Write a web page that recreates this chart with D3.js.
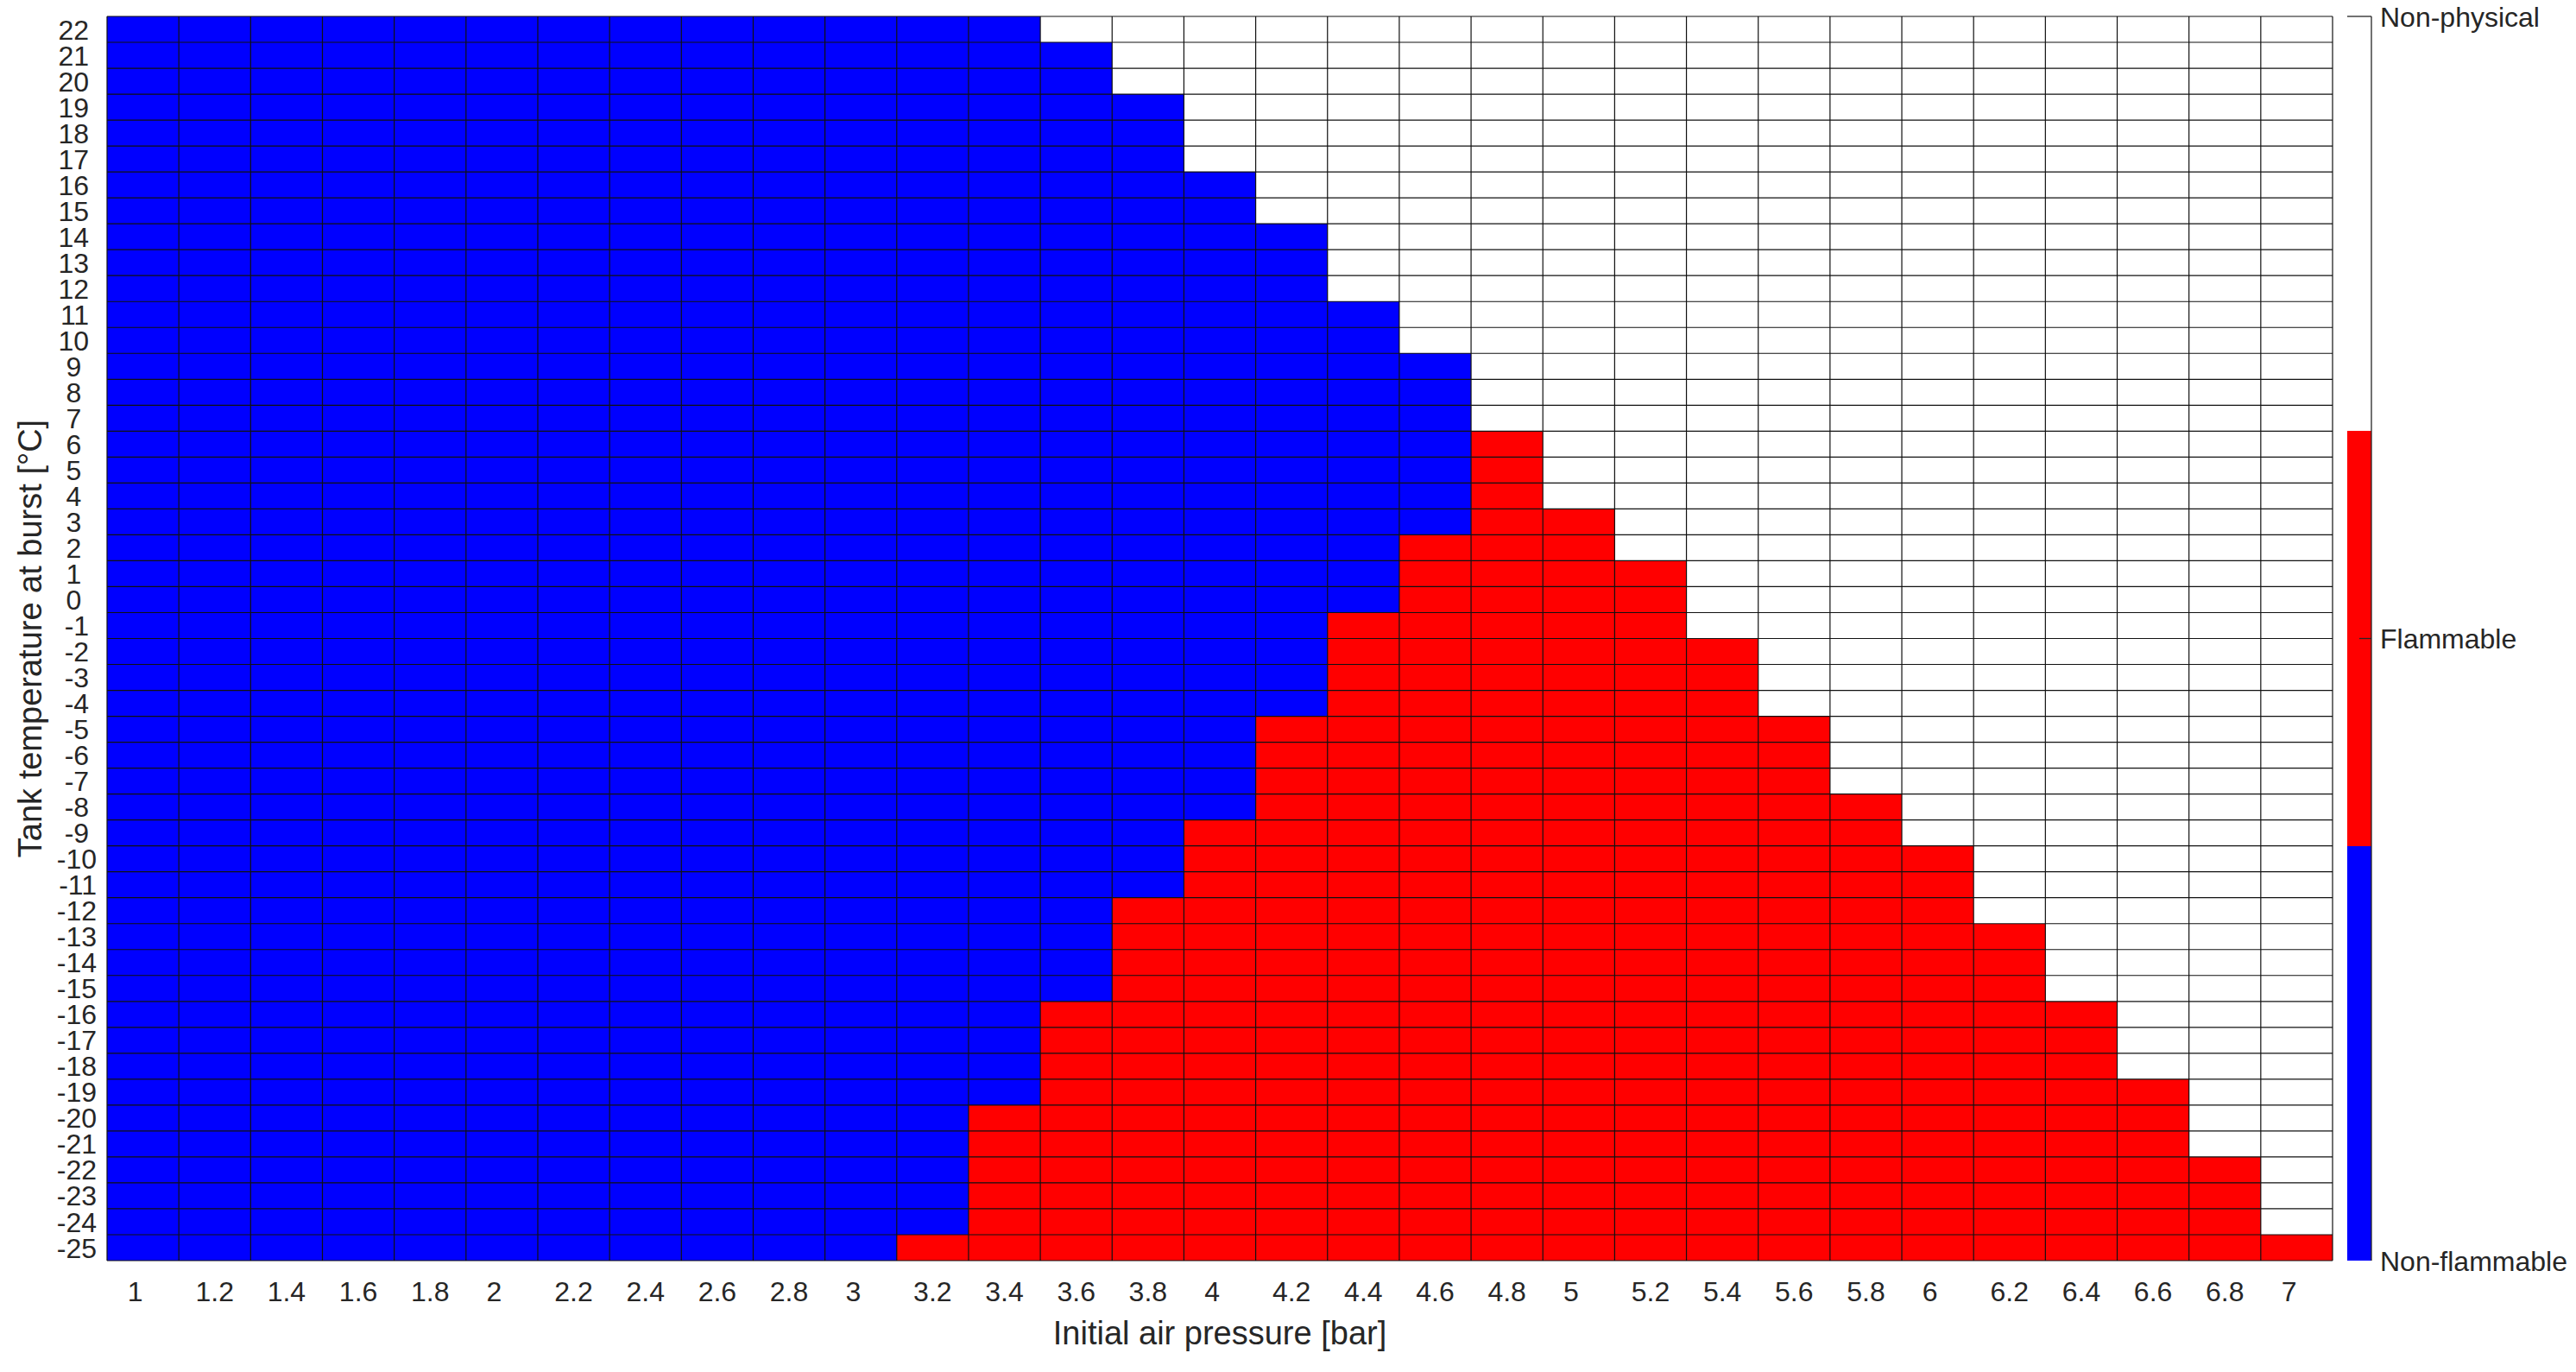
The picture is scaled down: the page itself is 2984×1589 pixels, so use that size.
<!DOCTYPE html>
<html>
<head>
<meta charset="utf-8">
<script src="https://cdn.jsdelivr.net/npm/d3@7"></script>
<style>
  html, body { margin: 0; padding: 0; background: #fff; }
  svg { display: block; }
  text { font-family: "Liberation Sans", Arial, Helvetica, sans-serif; fill: #262626; }
</style>
</head>
<body>
<svg id="chart" width="2984" height="1589"></svg>
<script>
// ---------------- data ----------------
const pressures = ["1","1.2","1.4","1.6","1.8","2","2.2","2.4","2.6","2.8","3","3.2","3.4","3.6","3.8","4",
                   "4.2","4.4","4.6","4.8","5","5.2","5.4","5.6","5.8","6","6.2","6.4","6.6","6.8","7"];
const temperatures = [22,21,20,19,18,17,16,15,14,13,12,11,10,9,8,7,6,5,4,3,2,1,0,-1,-2,-3,-4,-5,-6,-7,-8,-9,
                      -10,-11,-12,-13,-14,-15,-16,-17,-18,-19,-20,-21,-22,-23,-24,-25];
// highest physical temperature for each pressure (above it: Non-physical)
const maxPhysicalTemp = [22,22,22,22,22,22,22,22,22,22,22,22,22,21,19,16,14,11,9,6,3,1,-2,-5,-8,-10,-13,-16,-19,-22,-25];
// highest flammable temperature for each pressure (at or below it: Flammable), null = none
const maxFlammableTemp = [null,null,null,null,null,null,null,null,null,null,null,-25,-20,-16,-12,-9,-5,-1,2,6,3,1,-2,-5,-8,-10,-13,-16,-19,-22,-25];
const states = ["Non-flammable","Flammable","Non-physical"];
const stateColors = ["#0000ff","#ff0000","#ffffff"];
const xTitle = "Initial air pressure [bar]";
const yTitle = "Tank temperature at burst [°C]";

// ---------------- layout ----------------
const L = 124, R = 2702, T = 19, B = 1460;
const svg = d3.select("#chart");

const x = d3.scaleBand().domain(pressures).range([L, R]).padding(0);
const y = d3.scaleBand().domain(temperatures).range([T, B]).padding(0);
const color = d3.scaleOrdinal().domain(states).range(stateColors);

const cells = [];
pressures.forEach((p, j) => {
  temperatures.forEach(t => {
    let s;
    if (t > maxPhysicalTemp[j]) s = "Non-physical";
    else if (maxFlammableTemp[j] !== null && t <= maxFlammableTemp[j]) s = "Flammable";
    else s = "Non-flammable";
    cells.push({p, t, s});
  });
});

svg.append("g").selectAll("rect").data(cells).join("rect")
  .attr("x", d => x(d.p))
  .attr("y", d => y(d.t))
  .attr("width", x.bandwidth())
  .attr("height", y.bandwidth())
  .attr("fill", d => color(d.s))
  .attr("shape-rendering", "crispEdges");

// grid lines
const grid = svg.append("g").attr("stroke", "#111").attr("stroke-width", 1.2);
const xEdges = pressures.map(p => x(p)).concat([x(pressures[pressures.length-1]) + x.bandwidth()]);
const yEdges = temperatures.map(t => y(t)).concat([y(temperatures[temperatures.length-1]) + y.bandwidth()]);
grid.selectAll("line.v").data(xEdges).join("line").attr("class","v")
  .attr("x1", d => d).attr("x2", d => d).attr("y1", T).attr("y2", B);
grid.selectAll("line.h").data(yEdges).join("line").attr("class","h")
  .attr("x1", L).attr("x2", R).attr("y1", d => d).attr("y2", d => d);

// axes
const xAxis = svg.append("g").attr("transform", `translate(0,${B})`)
  .call(d3.axisBottom(x).tickSize(0).tickPadding(24));
xAxis.select(".domain").remove();
xAxis.selectAll("text")
  .style("font-size", "32px").attr("fill", "#262626")
  .attr("dx", d => `${-(3 - d.length) * 0.139}em`);

const yAxis = svg.append("g").attr("transform", `translate(${L},0)`)
  .call(d3.axisLeft(y).tickSize(0).tickPadding(12));
yAxis.select(".domain").remove();
yAxis.selectAll("text")
  .style("font-size", "32px").attr("fill", "#262626")
  .attr("dy", "0.36em")
  .attr("dx", d => `${-(3 - String(d).length) * 0.278}em`);

// axis titles
svg.append("text")
  .attr("x", (L + R) / 2).attr("y", 1557)
  .attr("text-anchor", "middle").style("font-size", "38px")
  .text(xTitle);
svg.append("text")
  .attr("transform", `translate(48,${(T + B) / 2}) rotate(-90)`)
  .attr("text-anchor", "middle").style("font-size", "38px")
  .text(yTitle);

// colorbar
const cbL = 2719, cbR = 2747;
const cb = d3.scaleBand().domain(states).range([B, T]).padding(0);
const cbPoint = d3.scalePoint().domain(states).range([B, T]);
svg.append("g").selectAll("rect").data(states).join("rect")
  .attr("x", cbL).attr("width", cbR - cbL)
  .attr("y", d => cb(d)).attr("height", cb.bandwidth())
  .attr("fill", d => color(d))
  .attr("shape-rendering", "crispEdges");
const cbLines = svg.append("g").attr("stroke", "#262626").attr("stroke-width", 1.3);
cbLines.append("line").attr("x1", cbR).attr("x2", cbR).attr("y1", T).attr("y2", B);
cbLines.append("line").attr("x1", cbL).attr("x2", cbR).attr("y1", T).attr("y2", T);
cbLines.selectAll("line.tick").data(states.filter(s => cbPoint(s) > T && cbPoint(s) < B)).join("line")
  .attr("class", "tick")
  .attr("x1", cbR - 14).attr("x2", cbR)
  .attr("y1", d => cbPoint(d)).attr("y2", d => cbPoint(d));
svg.append("g").selectAll("text").data(states).join("text")
  .attr("x", 2757).attr("y", d => cbPoint(d))
  .attr("dy", "0.36em")
  .style("font-size", "32px")
  .text(d => d);
</script>
</body>
</html>
